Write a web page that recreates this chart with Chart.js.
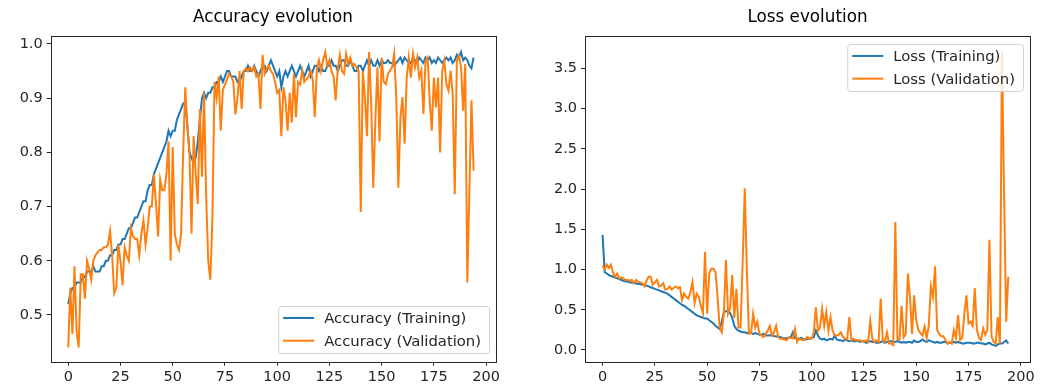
<!DOCTYPE html>
<html>
<head>
<meta charset="utf-8">
<script src="https://cdn.jsdelivr.net/npm/chart.js@4.4.0/dist/chart.umd.min.js"></script>
<style>
  body { margin: 0; background: #fff; }
  #wrap { position: relative; width: 1046px; height: 388px; }
  canvas { position: absolute; top: 0; }
</style>
</head>
<body>
<div id="wrap">
  <canvas id="acc" width="510" height="388" style="left:0"></canvas>
  <canvas id="loss" width="521" height="388" style="left:525px"></canvas>
</div>
<script>
// values, one per epoch
var accTraining = [
  0.52, 0.54, 0.55, 0.55, 0.56, 0.56, 0.56, 0.57, 0.57, 0.58,
  0.58, 0.58, 0.59, 0.58, 0.58, 0.58, 0.59, 0.59, 0.60, 0.60,
  0.61, 0.61, 0.62, 0.62, 0.63, 0.63, 0.64, 0.64, 0.65, 0.66,
  0.66, 0.67, 0.68, 0.68, 0.69, 0.70, 0.71, 0.71, 0.73, 0.74,
  0.74, 0.76, 0.77, 0.78, 0.79, 0.80, 0.81, 0.82, 0.84, 0.83,
  0.84, 0.84, 0.86, 0.87, 0.88, 0.89, 0.89, 0.85, 0.80, 0.79,
  0.78, 0.79, 0.82, 0.86, 0.90, 0.91, 0.90, 0.91, 0.91, 0.92,
  0.92, 0.93, 0.93, 0.94, 0.93, 0.94, 0.95, 0.95, 0.94, 0.94,
  0.94, 0.93, 0.93, 0.94, 0.95, 0.95, 0.96, 0.95, 0.95, 0.96,
  0.95, 0.94, 0.95, 0.96, 0.96, 0.95, 0.96, 0.97, 0.96, 0.95,
  0.94, 0.95, 0.92, 0.94, 0.95, 0.94, 0.95, 0.96, 0.95, 0.94,
  0.95, 0.96, 0.95, 0.94, 0.95, 0.96, 0.94, 0.95, 0.96, 0.96,
  0.95, 0.96, 0.95, 0.95, 0.96, 0.96, 0.97, 0.96, 0.96, 0.95,
  0.96, 0.97, 0.97, 0.96, 0.96, 0.97, 0.96, 0.95, 0.95, 0.96,
  0.96, 0.95, 0.96, 0.97, 0.96, 0.97, 0.96, 0.96, 0.97, 0.96,
  0.97, 0.965, 0.965, 0.97, 0.965, 0.965, 0.96, 0.965, 0.97, 0.975,
  0.965, 0.975, 0.97, 0.965, 0.965, 0.975, 0.97, 0.965, 0.975, 0.97,
  0.965, 0.975, 0.97, 0.975, 0.965, 0.97, 0.965, 0.975, 0.97, 0.965,
  0.97, 0.975, 0.97, 0.975, 0.965, 0.97, 0.98, 0.975, 0.985, 0.97,
  0.975, 0.97, 0.96, 0.955, 0.975
];
var accValidation = [
  0.44, 0.55, 0.465, 0.59, 0.47, 0.44, 0.575, 0.575, 0.53, 0.60,
  0.585, 0.565, 0.60, 0.61, 0.615, 0.62, 0.62, 0.625, 0.625, 0.63,
  0.655, 0.61, 0.54, 0.55, 0.63, 0.60, 0.555, 0.625, 0.61, 0.60,
  0.66, 0.645, 0.64, 0.64, 0.61, 0.65, 0.675, 0.63, 0.66, 0.70,
  0.70, 0.76, 0.705, 0.645, 0.75, 0.73, 0.73, 0.76, 0.82, 0.60,
  0.81, 0.65, 0.63, 0.62, 0.65, 0.80, 0.92, 0.85, 0.80, 0.65,
  0.83, 0.76, 0.705, 0.88, 0.755, 0.91, 0.72, 0.60, 0.565, 0.68,
  0.93, 0.90, 0.94, 0.84, 0.915, 0.925, 0.935, 0.945, 0.94, 0.93,
  0.87, 0.90, 0.95, 0.88, 0.95, 0.955, 0.95, 0.957, 0.95, 0.957,
  0.94, 0.945, 0.88, 0.98, 0.945, 0.955, 0.96, 0.95, 0.945, 0.93,
  0.91, 0.915, 0.83, 0.92, 0.895, 0.84, 0.91, 0.855, 0.945, 0.865,
  0.93, 0.925, 0.95, 0.93, 0.935, 0.94, 0.95, 0.935, 0.865, 0.955,
  0.97, 0.95, 0.97, 0.985, 0.96, 0.97, 0.95, 0.94, 0.896, 0.955,
  0.98, 0.95, 0.945, 0.982, 0.963, 0.975, 0.96, 0.963, 0.957, 0.95,
  0.69, 0.95, 0.90, 0.83, 0.985, 0.89, 0.735, 0.86, 0.957, 0.82,
  0.975, 0.93, 0.926, 0.944, 0.951, 0.957, 0.982, 0.902, 0.735, 0.865,
  0.902, 0.816, 0.938, 0.975, 0.938, 0.982, 0.957, 0.975, 0.938, 0.951,
  0.871, 0.969, 0.975, 0.896, 0.84, 0.938, 0.883, 0.938, 0.80, 0.951,
  0.969, 0.926, 0.914, 0.951, 0.908, 0.723, 0.969, 0.979, 0.957, 0.877,
  0.963, 0.56, 0.73, 0.896, 0.766
];
var lossTraining = [
  1.43, 0.97, 0.95, 0.93, 0.92, 0.91, 0.90, 0.89, 0.88, 0.87,
  0.86, 0.85, 0.85, 0.84, 0.84, 0.83, 0.83, 0.82, 0.82, 0.81,
  0.81, 0.80, 0.79, 0.78, 0.77, 0.76, 0.75, 0.74, 0.73, 0.72,
  0.71, 0.70, 0.68, 0.66, 0.64, 0.62, 0.60, 0.58, 0.56, 0.55,
  0.53, 0.51, 0.49, 0.47, 0.45, 0.43, 0.42, 0.41, 0.40, 0.39,
  0.39, 0.37, 0.35, 0.33, 0.30, 0.28, 0.26, 0.35, 0.47, 0.48,
  0.48, 0.46, 0.40, 0.30, 0.26, 0.24, 0.23, 0.22, 0.22, 0.21,
  0.22, 0.21, 0.20, 0.21, 0.20, 0.19, 0.19, 0.20, 0.18, 0.18,
  0.18, 0.19, 0.17, 0.17, 0.16, 0.16, 0.15, 0.14, 0.15, 0.15,
  0.16, 0.22, 0.15, 0.14, 0.14, 0.15, 0.13, 0.13, 0.14, 0.14,
  0.15, 0.16, 0.24, 0.18, 0.14, 0.13, 0.14, 0.12, 0.13, 0.14,
  0.13, 0.18, 0.13, 0.12, 0.12, 0.11, 0.13, 0.12, 0.11, 0.12,
  0.11, 0.11, 0.12, 0.10, 0.11, 0.11, 0.09, 0.10, 0.11, 0.10,
  0.10, 0.09, 0.09, 0.10, 0.11, 0.09, 0.10, 0.11, 0.11, 0.10,
  0.10, 0.11, 0.10, 0.09, 0.10, 0.09, 0.10, 0.10, 0.09, 0.12,
  0.10, 0.10, 0.11, 0.13, 0.11, 0.10, 0.12, 0.11, 0.10, 0.09,
  0.10, 0.09, 0.09, 0.10, 0.10, 0.08, 0.09, 0.09, 0.10, 0.09,
  0.10, 0.09, 0.08, 0.08, 0.09, 0.09, 0.09, 0.08, 0.08, 0.09,
  0.09, 0.08, 0.08, 0.07, 0.08, 0.09, 0.07, 0.06, 0.05, 0.07,
  0.08, 0.08, 0.10, 0.12, 0.08
];
var lossValidation = [
  1.05, 1.00, 1.06, 1.02, 1.06, 0.96, 0.91, 0.95, 0.89, 0.90,
  0.89, 0.87, 0.87, 0.86, 0.87, 0.83, 0.87, 0.85, 0.84, 0.83,
  0.79, 0.86, 0.91, 0.91, 0.81, 0.84, 0.87, 0.79, 0.80, 0.83,
  0.75, 0.76, 0.79, 0.75, 0.77, 0.79, 0.77, 0.78, 0.62, 0.70,
  0.66, 0.64, 0.72, 0.84, 0.58, 0.70, 0.66, 0.55, 0.46, 1.22,
  0.45, 0.95, 1.01, 1.01, 0.97, 0.66, 0.28, 0.22, 0.45, 1.12,
  0.45, 0.52, 0.93, 0.40, 0.76, 0.28, 0.28, 1.10, 2.01, 1.00,
  0.20, 0.21, 0.45, 0.28, 0.35, 0.20, 0.18, 0.16, 0.20, 0.24,
  0.30, 0.18, 0.22, 0.30, 0.16, 0.14, 0.14, 0.13, 0.12, 0.16,
  0.15, 0.14, 0.26, 0.10, 0.14, 0.13, 0.12, 0.14, 0.16, 0.14,
  0.14, 0.22, 0.53, 0.24, 0.28, 0.51, 0.30, 0.47, 0.24, 0.41,
  0.24, 0.18, 0.18, 0.19, 0.22, 0.16, 0.14, 0.14, 0.41, 0.12,
  0.14, 0.12, 0.12, 0.12, 0.11, 0.10, 0.12, 0.10, 0.36, 0.14,
  0.10, 0.12, 0.10, 0.64, 0.12, 0.10, 0.22, 0.08, 0.08, 0.06,
  1.59, 0.14, 0.13, 0.55, 0.16, 0.20, 0.95, 0.66, 0.20, 0.68,
  0.37, 0.25, 0.21, 0.18, 0.29, 0.15, 0.30, 0.79, 0.66, 1.04,
  0.25, 0.20, 0.17, 0.17, 0.12, 0.08, 0.10, 0.08, 0.25, 0.15,
  0.435, 0.125, 0.15, 0.45, 0.68, 0.33, 0.353, 0.30, 0.77, 0.25,
  0.15, 0.125, 0.27, 0.19, 0.25, 1.37, 0.17, 0.10, 0.08, 0.41,
  0.08, 3.71, 1.95, 0.35, 0.91
];
var epochs = accTraining.map(function(v, i) { return i; });

var xTicks = [0, 25, 50, 75, 100, 125, 150, 175, 200];
var accTicks = [0.5, 0.6, 0.7, 0.8, 0.9, 1.0];
var lossTicks = [0.0, 0.5, 1.0, 1.5, 2.0, 2.5, 3.0, 3.5];

var BLUE = '#1f77b4', ORANGE = '#ff7f0e', INK = '#262626';
var FONT = 'DejaVu Sans';

// axes frame + matplotlib-like legend box inside the plot
var frameLegend = {
    id: 'frameLegend',
    afterDatasetsDraw: function(chart, args, opts) {
        var ctx = chart.ctx, a = chart.chartArea;
        ctx.save();
        ctx.strokeStyle = INK;
        ctx.lineWidth = 1;
        ctx.strokeRect(Math.round(a.left) + 0.5, Math.round(a.top) + 0.5,
            Math.round(a.right - a.left), Math.round(a.bottom - a.top));

        ctx.font = '14.8px "' + FONT + '"';
        var sets = chart.data.datasets;
        var textW = 0;
        sets.forEach(function(d) { textW = Math.max(textW, ctx.measureText(d.label).width); });
        var w = 5 + 31 + 10 + textW + 8, h = 47;
        var x = a.right - opts.right - w;
        var y = opts.top != null ? a.top + opts.top : a.bottom - opts.bottom - h;

        ctx.beginPath();
        ctx.roundRect(x + 0.5, y + 0.5, w, h, 3);
        ctx.fillStyle = 'rgba(255,255,255,0.8)';
        ctx.fill();
        ctx.strokeStyle = '#d0d0d0';
        ctx.stroke();

        sets.forEach(function(d, i) {
            var cy = y + 12 + i * 22.7;
            ctx.strokeStyle = d.borderColor;
            ctx.lineWidth = 2;
            ctx.beginPath();
            ctx.moveTo(x + 5, cy);
            ctx.lineTo(x + 36, cy);
            ctx.stroke();
            ctx.fillStyle = INK;
            ctx.textBaseline = 'middle';
            ctx.fillText(d.label, x + 46, cy + 1);
        });
        ctx.restore();
    }
};

function fixedTicks(list) {
    return function(axis) {
        axis.ticks = list.map(function(v) { return { value: v }; });
    };
}

function makeConfig(title, names, train, valid, yMin, yMax, yTicks, yWidth, padRight, legendPos) {
    return {
        type: 'line',
        data: {
            labels: epochs,
            datasets: [{
                label: names[0],
                data: train,
                borderColor: BLUE,
                borderWidth: 2,
                pointRadius: 0,
                order: 2
            }, {
                label: names[1],
                data: valid,
                borderColor: ORANGE,
                borderWidth: 2,
                pointRadius: 0,
                order: 1
            }]
        },
        options: {
            responsive: false,
            animation: false,
            layout: { padding: { left: 0, right: padRight, top: 0, bottom: 0 } },
            plugins: {
                legend: { display: false },
                tooltip: { enabled: false },
                title: {
                    display: true,
                    text: title,
                    fullSize: false,
                    color: '#000',
                    font: { family: FONT, size: 16.8, weight: 'normal' },
                    padding: { top: 8, bottom: 7.8 }
                },
                frameLegend: legendPos
            },
            scales: {
                x: {
                    type: 'linear',
                    min: -8.4,
                    max: 204.4,
                    afterBuildTicks: fixedTicks(xTicks),
                    afterFit: function(axis) {
                        axis.height = 26.3;
                        axis.paddingLeft = 0;
                        axis.paddingRight = 0;
                    },
                    border: { display: false },
                    grid: { drawOnChartArea: false, tickLength: 4, color: INK },
                    ticks: {
                        color: INK, padding: 3, maxRotation: 0, autoSkip: false,
                        font: { family: FONT, size: 14.5 },
                        callback: function(v) { return String(v); }
                    }
                },
                y: {
                    min: yMin,
                    max: yMax,
                    afterBuildTicks: fixedTicks(yTicks),
                    afterFit: function(axis) {
                        axis.width = yWidth;
                        axis.paddingTop = 0;
                        axis.paddingBottom = 0;
                    },
                    border: { display: false },
                    grid: { drawOnChartArea: false, tickLength: 4, color: INK },
                    ticks: {
                        color: INK, padding: 4,
                        font: { family: FONT, size: 14.5 },
                        callback: function(v) { return v.toFixed(1); }
                    }
                }
            }
        },
        plugins: [frameLegend]
    };
}

new Chart(document.getElementById('acc'), makeConfig(
    'Accuracy evolution', ['Accuracy (Training)', 'Accuracy (Validation)'],
    accTraining, accValidation, 0.4138, 1.0148, accTicks, 50.7, 14.7,
    { right: 6.3, bottom: 8.7 }));

new Chart(document.getElementById('loss'), makeConfig(
    'Loss evolution', ['Loss (Training)', 'Loss (Validation)'],
    lossTraining, lossValidation, -0.1455, 3.902, lossTicks, 60, 16,
    { right: 7, top: 8 }));
</script>
</body>
</html>
